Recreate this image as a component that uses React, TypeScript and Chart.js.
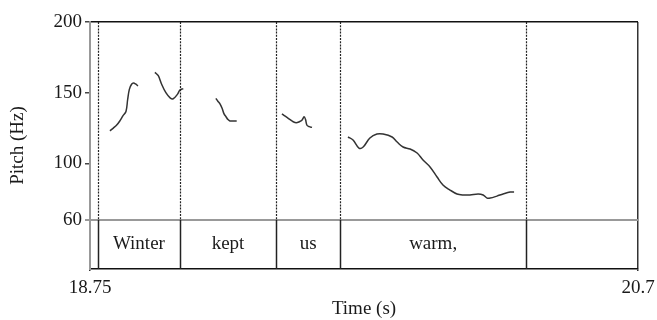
import React, { useEffect, useRef } from "react";
import { Chart, registerables } from "chart.js";

Chart.register(...registerables);

// ---- data ----
const xTickValues = [18.75, 20.7];
const yTickValues = [60, 100, 150, 200];
const boundaries = [18.778, 19.07, 19.412, 19.64, 20.302];
const words = ["Winter", "kept", "us", "warm,"];

const winterATime = [18.821, 18.833, 18.845, 18.856, 18.867, 18.878, 18.884, 18.89, 18.898, 18.905, 18.912, 18.921];
const winterAHz = [123, 125, 127.1, 130, 133.6, 136.7, 145.2, 152.4, 156, 156.8, 156.2, 154.8];

const winterBTime = [18.981, 18.993, 19.005, 19.02, 19.035, 19.046, 19.061, 19.07, 19.082];
const winterBHz = [164.4, 162, 156, 150, 146.4, 145.7, 148.8, 151.9, 152.9];

const keptTime = [19.198, 19.205, 19.213, 19.22, 19.227, 19.234, 19.241, 19.248, 19.26, 19.272];
const keptHz = [146, 144, 142, 139, 135, 133, 131, 130, 130, 130];

const usTime = [19.433, 19.44, 19.451, 19.462, 19.473, 19.484, 19.495, 19.504, 19.512, 19.517, 19.522, 19.53, 19.54];
const usHz = [135, 134, 132.5, 131, 129.5, 128.8, 129.5, 130.5, 133, 131, 127, 126, 125.5];

const warmTime = [19.668, 19.686, 19.707, 19.722, 19.746, 19.771, 19.793, 19.825, 19.843, 19.864, 19.889, 19.914, 19.935, 19.96, 19.985, 20.006, 20.031, 20.056, 20.077, 20.102, 20.131, 20.149, 20.163, 20.174, 20.198, 20.22, 20.245, 20.259];
const warmHz = [118.7, 116.6, 110.9, 111.6, 118, 120.8, 120.8, 118.7, 115.1, 111.6, 110.2, 107.4, 102.4, 97.5, 90.4, 84.7, 81.2, 78.4, 77.7, 77.7, 78.4, 77.7, 75.5, 75.5, 76.9, 78.4, 79.8, 79.8];

const contours = [
  [winterATime, winterAHz],
  [winterBTime, winterBHz],
  [keptTime, keptHz],
  [usTime, usHz],
  [warmTime, warmHz],
];

const FONT = "Liberation Serif";
const TEXT = "#1a1a1a";

const tierPlugin = {
  id: "tier",
  afterDraw(chart: any) {
    const { ctx, chartArea, scales } = chart;
    const x = scales.x;
    const y = scales.y;
    const y60 = y.getPixelForValue(60);
    ctx.save();
    boundaries.forEach((b) => {
      const px = Math.round(x.getPixelForValue(b)) + 0.5;
      ctx.strokeStyle = "#222";
      ctx.lineWidth = 1.2;
      ctx.setLineDash([2, 1.2]);
      ctx.beginPath();
      ctx.moveTo(px, chartArea.top);
      ctx.lineTo(px, y60);
      ctx.stroke();
      ctx.setLineDash([]);
      ctx.strokeStyle = "#222";
      ctx.lineWidth = 1.5;
      ctx.beginPath();
      ctx.moveTo(px, y60);
      ctx.lineTo(px, chartArea.bottom);
      ctx.stroke();
    });
    ctx.font = `19px "${FONT}"`;
    ctx.fillStyle = TEXT;
    ctx.textAlign = "center";
    ctx.textBaseline = "middle";
    const yMid = (y60 + chartArea.bottom) / 2;
    words.forEach((w, i) => {
      const cx = (x.getPixelForValue(boundaries[i]) + x.getPixelForValue(boundaries[i + 1])) / 2;
      ctx.fillText(w, cx, yMid);
    });
    ctx.restore();
  },
};

export default function App() {
  const ref = useRef<HTMLCanvasElement | null>(null);
  useEffect(() => {
    if (!ref.current) return;
    const chart = new Chart(ref.current, {
      type: "line",
      data: {
        datasets: contours.map(([t, hz]) => ({
          data: t.map((v, i) => ({ x: v, y: hz[i] })),
          borderColor: "#333",
          borderWidth: 1.5,
          pointRadius: 0,
          tension: 0.35,
          fill: false,
        })),
      },
      options: {
        responsive: false,
        animation: false,
        layout: { padding: { top: 22, right: 19, left: 0, bottom: 0 } },
        plugins: { legend: { display: false }, tooltip: { enabled: false } },
        scales: {
          x: {
            type: "linear",
            min: 18.75,
            max: 20.7,
            afterBuildTicks: (s: any) => {
              s.ticks = xTickValues.map((v) => ({ value: v }));
            },
            afterFit: (s: any) => {
              s.height = 51;
              s.paddingLeft = 0;
              s.paddingRight = 0;
            },
            ticks: {
              autoSkip: false,
              maxRotation: 0,
              padding: 6,
              color: TEXT,
              font: { family: FONT, size: 19 },
              callback: (v: any) => String(v),
            },
            grid: {
              color: (c: any) => (c.tick && c.tick.value === 20.7 ? "#333" : "rgba(0,0,0,0)"),
              lineWidth: 1.5,
              tickLength: 2,
              tickColor: "#333",
            },
            border: { color: "#111", width: 1.5 },
            title: {
              display: true,
              text: "Time (s)",
              color: TEXT,
              font: { family: FONT, size: 19 },
              padding: { top: 0, bottom: 0 },
            },
          },
          y: {
            type: "linear",
            min: 25.35,
            max: 200,
            afterBuildTicks: (s: any) => {
              s.ticks = yTickValues.map((v) => ({ value: v }));
            },
            afterFit: (s: any) => {
              s.width = 90;
              s.paddingTop = 0;
              s.paddingBottom = 0;
            },
            ticks: {
              padding: 3,
              color: TEXT,
              font: { family: FONT, size: 19 },
              callback: (v: any) => String(v),
            },
            grid: {
              color: (c: any) =>
                c.tick && c.tick.value === 60 ? "#999" : c.tick && c.tick.value === 200 ? "#111" : "rgba(0,0,0,0)",
              lineWidth: (c: any) => (c.tick && c.tick.value === 60 ? 2 : 1.5),
              tickColor: (c: any) => (c.tick && c.tick.value === 60 ? "#999" : "#444"),
              tickLength: 5,
            },
            border: { color: "#999", width: 2 },
            title: {
              display: true,
              text: "Pitch (Hz)",
              color: TEXT,
              font: { family: FONT, size: 19 },
              padding: { top: 7, bottom: 0 },
            },
          },
        },
      },
      plugins: [tierPlugin],
    } as any);
    return () => chart.destroy();
  }, []);
  return (
    <div style={{ position: "fixed", left: 0, top: 0, width: 657, height: 320, background: "#fff" }}>
      <canvas ref={ref} width={657} height={320} style={{ display: "block" }} />
    </div>
  );
}
